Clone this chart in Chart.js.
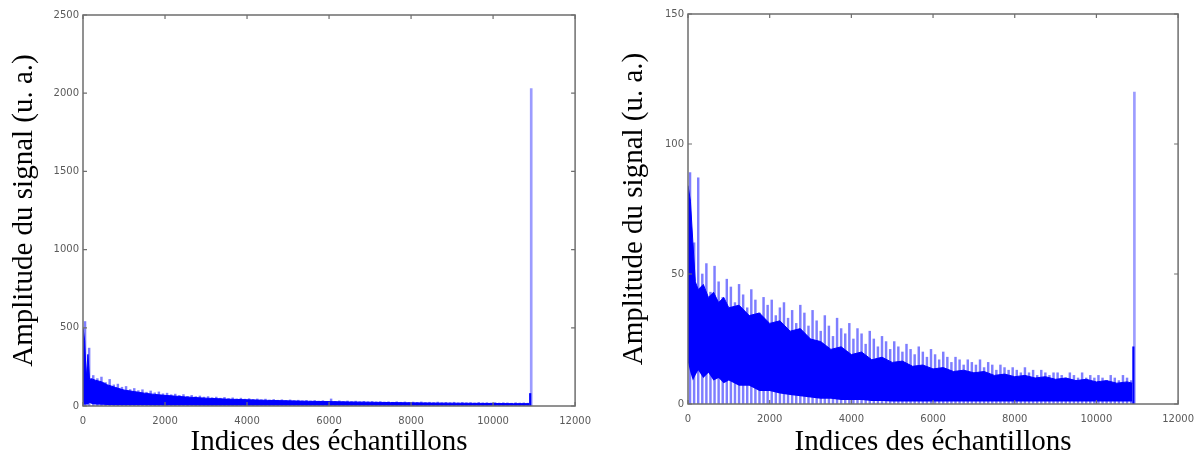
<!DOCTYPE html>
<html>
<head>
<meta charset="utf-8">
<script src="https://cdn.jsdelivr.net/npm/chart.js@4/dist/chart.umd.min.js"></script>
<style>
  html, body { margin: 0; padding: 0; background: #fff; }
  #wrap { position: relative; width: 1203px; height: 457px; overflow: hidden; }
  .panel { position: absolute; top: 0; }
</style>
</head>
<body>
<div id="wrap">
  <div class="panel" style="left:0"><canvas id="gauche" width="600" height="457"></canvas></div>
  <div class="panel" style="left:600px"><canvas id="droite" width="603" height="457"></canvas></div>
</div>
<script>
// Textes communs
const titreX = 'Indices des échantillons';
const titreY = 'Amplitude du signal (u. a.)';

// Pics : un échantillon tous les 100 indices, premier à 50
const picDebut = 50;
const picPas = 100;

// ---- Graphe de gauche (0 - 2500) ----
const gaucheCoeurX = [0, 40, 80, 120, 160, 200, 300, 450, 600, 800, 1000, 1250, 1500, 1750, 2000, 2500, 3000, 3500, 4000, 4500, 5000, 5500, 6000, 6500, 7000, 7500, 8000, 8500, 9000, 9500, 10000, 10500, 10880];
const gaucheCoeurHaut = [500, 420, 180, 330, 170, 175, 165, 155, 135, 118, 102, 92, 82, 74, 68, 58, 50, 44, 40, 36, 33, 30, 28, 26, 24, 22, 20, 19, 18, 17, 16, 15, 15];
const gaucheCoeurBas = [10, 10, 10, 10, 20, 15, 10, 8, 6, 5, 5, 4, 4, 3, 3, 3, 2, 2, 2, 2, 2, 2, 2, 2, 2, 2, 2, 2, 2, 2, 2, 2, 2];
const gauchePics = [
  540, 370, 195, 175, 185, 150, 170, 135, 140, 120,
  125, 105, 112, 98, 104, 88, 96, 84, 90, 78,
  82, 72, 76, 68, 73, 62, 68, 60, 64, 57,
  60, 53, 57, 50, 55, 48, 52, 45, 50, 44,
  47, 42, 45, 40, 44, 38, 42, 37, 40, 36,
  39, 34, 37, 33, 36, 32, 35, 31, 34, 30,
  45, 30, 33, 29, 32, 28, 31, 27, 30, 27,
  29, 26, 28, 25, 27, 24, 27, 24, 26, 23,
  25, 23, 26, 22, 24, 22, 25, 21, 23, 21,
  24, 20, 23, 21, 22, 19, 23, 20, 21, 19,
  22, 19, 21, 20, 18, 21, 19, 20, 18
];
const gaucheRaie = [{ x: 10930, y: 2030 }];
const gaucheRaiePetite = [{ x: 10905, y: 80 }];
const gaucheTicksY = [0, 500, 1000, 1500, 2000, 2500];

// ---- Graphe de droite (0 - 150) ----
const droiteCoeurX = [0, 60, 120, 180, 250, 375, 500, 625, 750, 875, 1000, 1250, 1500, 1750, 2000, 2250, 2500, 2750, 3000, 3250, 3500, 3750, 4000, 4250, 4500, 4750, 5000, 5250, 5500, 5750, 6000, 6250, 6500, 6750, 7000, 7250, 7500, 7750, 8000, 8250, 8500, 8750, 9000, 9250, 9500, 9750, 10000, 10250, 10500, 10750, 10880];
const droiteCoeurHaut = [84, 78, 62, 47, 44, 46, 41, 43, 39, 41, 37, 38, 34, 35, 31, 32, 28, 29, 25, 24, 21, 22, 19, 20, 17, 18, 16, 16.5, 14.5, 15, 13.5, 14, 12.5, 13, 12, 12.5, 11, 11.5, 10.5, 11, 10, 10.5, 9.5, 10, 9, 9.5, 8.5, 9, 8, 8.5, 8];
const droiteCoeurBas = [16, 12, 9, 11, 13, 10, 12, 9, 10, 8, 9, 7, 7, 5, 5, 4, 3.5, 3, 2.5, 2, 2, 1.5, 1.5, 1.5, 1.2, 1.2, 1, 1, 1, 1, 1, 1, 1, 1, 1, 1, 1, 1, 1, 1, 1, 1, 1, 1, 1, 1, 1, 1, 1, 1, 1];
const droitePics = [
  89, 62, 87, 50, 54, 43, 53, 47, 41, 48,
  45, 39, 46, 42, 37, 44, 40, 35, 41, 38,
  40, 34, 37, 39, 33, 36, 31, 38, 35, 30,
  36, 32, 28, 34, 30, 26, 33, 29, 27, 31,
  25, 29, 27, 23, 28, 25, 22, 26, 24, 21,
  24, 22, 20, 23, 21, 19, 22, 20, 18, 21,
  19, 17, 20, 18, 16, 18, 17, 15, 17, 16,
  15, 17, 14, 16, 15, 13, 15, 14, 13, 14,
  13, 12, 14, 12, 13, 11, 13, 12, 11, 12,
  12, 11, 10, 12, 11, 10, 12, 10, 11, 10,
  11, 10, 9, 11, 10, 9, 11, 10, 9
];
const droiteRaie = [{ x: 10930, y: 120 }];
const droiteRaiePetite = [{ x: 10905, y: 22 }];
const droiteTicksY = [0, 50, 100, 150];

const ticksX = [0, 2000, 4000, 6000, 8000, 10000, 12000];

// Cadre + graduations vers l'interieur sur les 4 cotes (style Matlab)
const cadrePlugin = {
  id: 'cadre',
  afterDraw(chart) {
    const { ctx, chartArea: a, scales: { x, y } } = chart;
    ctx.save();
    ctx.strokeStyle = '#6e6e6e';
    ctx.lineWidth = 1.2;
    x.ticks.forEach(t => {
      const px = x.getPixelForValue(t.value);
      ctx.beginPath();
      ctx.moveTo(px, a.bottom); ctx.lineTo(px, a.bottom - 4);
      ctx.moveTo(px, a.top); ctx.lineTo(px, a.top + 4);
      ctx.stroke();
    });
    y.ticks.forEach(t => {
      const py = y.getPixelForValue(t.value);
      ctx.beginPath();
      ctx.moveTo(a.left, py); ctx.lineTo(a.left + 4, py);
      ctx.moveTo(a.right, py); ctx.lineTo(a.right - 4, py);
      ctx.stroke();
    });
    ctx.lineWidth = 1.5;
    ctx.strokeRect(a.left, a.top, a.right - a.left, a.bottom - a.top);
    ctx.restore();
  }
};

function points(xs, ys) {
  return xs.map((v, i) => ({ x: v, y: ys[i] }));
}

function pics(vals) {
  return vals.map((v, i) => ({ x: picDebut + i * picPas, y: v }));
}

function creerGraphe(id, opts) {
  const ctx = document.getElementById(id).getContext('2d');
  return new Chart(ctx, {
    type: 'line',
    data: {
      datasets: [
        {
          // haut du coeur dense, rempli jusqu'au bas
          data: points(opts.coeurX, opts.coeurHaut),
          borderColor: '#0000ff',
          borderWidth: 1,
          backgroundColor: '#0000ff',
          pointRadius: 0,
          tension: 0,
          fill: '+1'
        },
        {
          data: points(opts.coeurX, opts.coeurBas),
          borderColor: '#0000ff',
          borderWidth: 0,
          pointRadius: 0,
          tension: 0,
          fill: false
        },
        {
          type: 'bar',
          data: opts.raiePetite,
          backgroundColor: '#0000ff',
          barThickness: 1.5,
          grouped: false
        },
        {
          type: 'bar',
          data: opts.raie,
          backgroundColor: 'rgba(90, 90, 255, 0.6)',
          barThickness: 2,
          grouped: false
        },
        {
          type: 'bar',
          data: pics(opts.pics),
          backgroundColor: 'rgba(40, 40, 255, 0.6)',
          barThickness: 1.8,
          grouped: false
        }
      ]
    },
    options: {
      responsive: false,
      animation: false,
      layout: { padding: opts.padding },
      plugins: { legend: { display: false }, tooltip: { enabled: false } },
      scales: {
        x: {
          type: 'linear',
          min: 0,
          max: 12000,
          offset: false,
          grid: { display: false, drawTicks: false, offset: false },
          border: { display: false },
          afterBuildTicks: s => { s.ticks = ticksX.map(v => ({ value: v })); },
          afterFit: s => { s.height = opts.hauteurX; },
          ticks: {
            padding: 9,
            maxRotation: 0,
            autoSkip: false,
            color: '#5a5a5a',
            font: { family: 'DejaVu Sans', size: 10 },
            callback: v => String(v)
          },
          title: {
            display: true,
            text: titreX,
            color: '#000',
            padding: { top: 0, bottom: 0 },
            font: { family: 'Liberation Serif', size: 29, lineHeight: 1 }
          }
        },
        y: {
          min: 0,
          max: opts.yMax,
          grid: { display: false, drawTicks: false },
          border: { display: false },
          afterBuildTicks: s => { s.ticks = opts.ticksY.map(v => ({ value: v })); },
          afterFit: s => { s.width = opts.largeurY; },
          ticks: {
            padding: 4,
            color: '#5a5a5a',
            font: { family: 'DejaVu Sans', size: 10 },
            callback: v => String(v)
          },
          title: {
            display: true,
            text: titreY,
            color: '#000',
            padding: { top: opts.titreYDecalage, bottom: 0 },
            font: { family: 'Liberation Serif', size: 29, lineHeight: 1.2 }
          }
        }
      }
    },
    plugins: [cadrePlugin]
  });
}

creerGraphe('gauche', {
  coeurX: gaucheCoeurX, coeurHaut: gaucheCoeurHaut, coeurBas: gaucheCoeurBas,
  pics: gauchePics, raie: gaucheRaie, raiePetite: gaucheRaiePetite,
  yMax: 2500, ticksY: gaucheTicksY,
  padding: { left: 0, top: 15, right: 22, bottom: 0 },
  largeurY: 83, hauteurX: 51, titreYDecalage: 7
});

creerGraphe('droite', {
  coeurX: droiteCoeurX, coeurHaut: droiteCoeurHaut, coeurBas: droiteCoeurBas,
  pics: droitePics, raie: droiteRaie, raiePetite: droiteRaiePetite,
  yMax: 150, ticksY: droiteTicksY,
  padding: { left: 0, top: 14, right: 20, bottom: 0 },
  largeurY: 88, hauteurX: 53, titreYDecalage: 17
});
</script>
</body>
</html>
